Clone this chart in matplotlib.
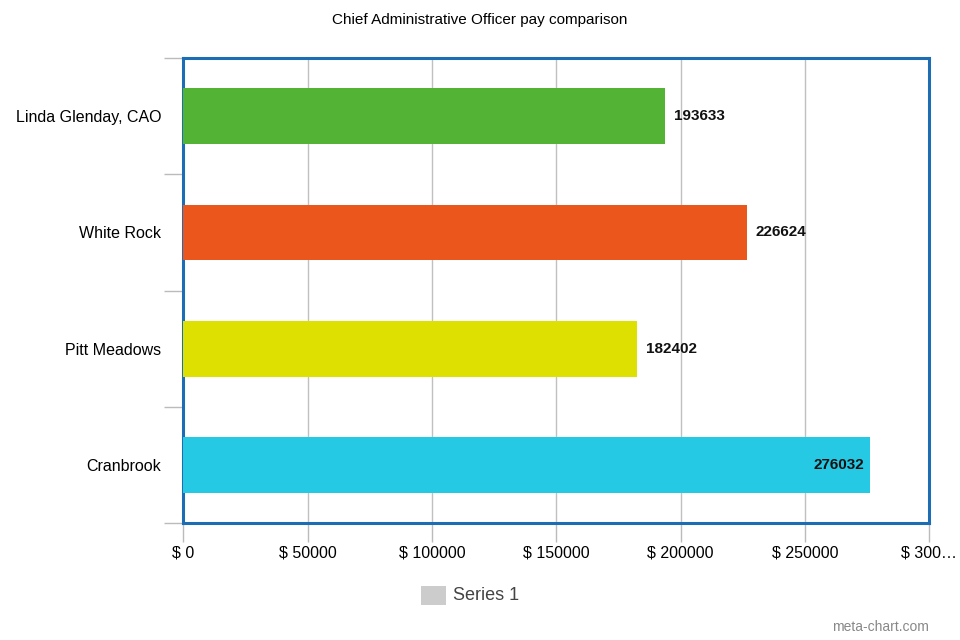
import matplotlib
matplotlib.use("Agg")
import matplotlib.pyplot as plt
from matplotlib.patches import Rectangle

categories = ["Linda Glenday, CAO", "White Rock", "Pitt Meadows", "Cranbrook"]
values = [193633, 226624, 182402, 276032]
colors = ["#52b334", "#eb561c", "#dde000", "#26c9e3"]
xticks = [0, 50000, 100000, 150000, 200000, 250000, 300000]
xtick_labels = ["$ 0", "$ 50000", "$ 100000", "$ 150000", "$ 200000", "$ 250000", "$ 300…"]
title = "Chief Administrative Officer pay comparison"
legend_label = "Series 1"

plt.rcParams['font.family'] = ['Liberation Sans', 'DejaVu Sans']

fig = plt.figure(figsize=(9.6, 6.4), dpi=100)
ax = fig.add_axes([0.191, 0.183, 0.777, 0.726])

n = len(categories)
ypos = list(range(n))
ax.barh(ypos, values, height=0.48, color=colors, zorder=3)
ax.set_ylim(n - 0.5, -0.5)
ax.set_xlim(0, 300000)

for y, v in zip(ypos, values):
    if v > 260000:
        ax.text(v - 2000, y, str(v), ha='right', va='center', fontsize=11,
                fontweight='bold', color='#111111', zorder=4)
    else:
        ax.text(v + 3500, y, str(v), ha='left', va='center', fontsize=11,
                fontweight='bold', color='#111111', zorder=4)

ax.set_xticks(xticks)
ax.set_xticklabels(xtick_labels, fontsize=11.5)
ax.set_yticks([i - 0.5 for i in range(n + 1)], minor=False)
ax.set_yticklabels([""] * (n + 1))
ax.set_yticks(ypos, minor=True)
ax.set_yticklabels(categories, minor=True, fontsize=11.5)
ax.tick_params(axis='y', which='minor', length=0, pad=16)
ax.tick_params(axis='y', which='major', length=14, color='#bbbbbb', width=1)
ax.tick_params(axis='x', length=14, color='#bbbbbb', width=1, pad=2, labelsize=11.5)

ax.grid(axis='x', color='#c0c0c0', linewidth=1, zorder=0)
for s in ax.spines.values():
    s.set_color('#1c6db3')
    s.set_linewidth(2.2)

fig.text(0.5, 0.968, title, ha='center', va='center', fontsize=11)

# legend
fig.patches.append(Rectangle((0.439, 0.055), 0.026, 0.03, transform=fig.transFigure,
                             facecolor='#cccccc', edgecolor='none'))
fig.text(0.472, 0.069, legend_label, ha='left', va='center', fontsize=13, color='#444444')
fig.text(0.968, 0.02, "meta-chart.com", ha='right', va='center', fontsize=10, color='#888888')

fig.savefig("out.png", dpi=100)
